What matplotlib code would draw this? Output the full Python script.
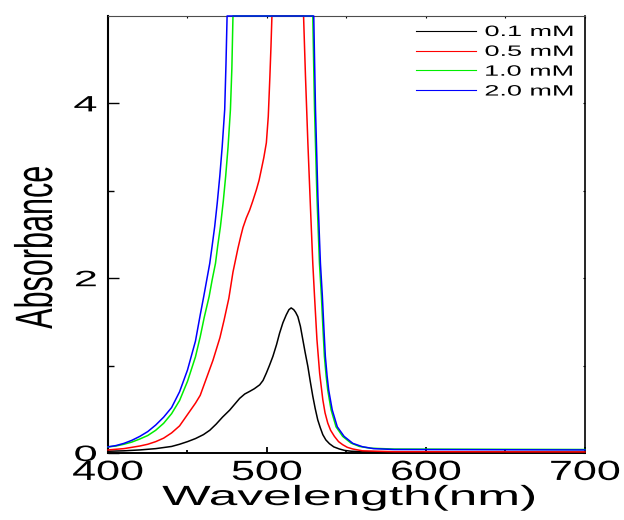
import matplotlib
matplotlib.use('Agg')
import matplotlib.pyplot as plt
from matplotlib.patheffects import AbstractPathEffect
from matplotlib.transforms import Affine2D
from matplotlib.ticker import FixedLocator

plt.rcParams['font.family'] = ['Liberation Sans', 'DejaVu Sans']

# ---------------- data ----------------
wl_01 = [400, 410, 420, 430, 440, 445, 450, 455, 460, 464, 468, 472, 476.5, 480, 482.8, 486,
         489.1, 492, 495.4, 497.5, 499.6, 501.5, 503.7, 506, 507.9, 510, 512.1, 513.8, 515.2,
         516.8, 518, 519.4, 521, 522.5, 524, 525.7, 527.2, 528.8, 530.3, 531.9, 533.5, 535.1,
         537, 539.3, 542, 545.5, 548.7, 553, 560, 580, 700]
abs_01 = [0.02, 0.025, 0.035, 0.05, 0.075, 0.10, 0.13, 0.165, 0.21, 0.26, 0.33, 0.41, 0.49,
          0.565, 0.625, 0.675, 0.705, 0.735, 0.78, 0.83, 0.915, 1.0, 1.105, 1.24, 1.37, 1.49,
          1.58, 1.64, 1.66, 1.64, 1.61, 1.56, 1.45, 1.30, 1.15, 0.99, 0.82, 0.65, 0.51, 0.38,
          0.29, 0.21, 0.15, 0.106, 0.07, 0.046, 0.03, 0.02, 0.015, 0.012, 0.01]

wl_05 = [400, 410, 420, 425, 430, 435, 440, 445, 450, 455, 458, 462, 466, 470.4, 473, 476,
         478.6, 481.7, 483.5, 484.9, 487, 489.1, 491, 493.3, 495, 496.4, 498, 499.6, 500.8,
         501.8, 502.5, 503.1, 523.0, 523.6, 524.2, 525.7, 527.4, 528.8, 529.9, 531.4, 533.1,
         535.1, 536.5, 538.2, 540, 542.4, 545, 547.6, 550.5, 553.9, 560, 580, 700]
abs_05 = [0.035, 0.05, 0.08, 0.10, 0.13, 0.17, 0.23, 0.31, 0.44, 0.57, 0.66, 0.86, 1.06, 1.32,
          1.52, 1.77, 2.07, 2.34, 2.48, 2.58, 2.69, 2.78, 2.88, 3.01, 3.12, 3.24, 3.38, 3.55,
          3.85, 4.3, 4.65, 5.0, 5.0, 4.65, 4.31, 3.55, 2.78, 2.17, 1.79, 1.30, 0.915, 0.61,
          0.46, 0.343, 0.26, 0.19, 0.13, 0.095, 0.065, 0.046, 0.025, 0.015, 0.012]

wl_10 = [400, 405, 410, 415, 420, 425, 430, 435, 440, 445, 450, 455, 458, 460.5, 463.6, 465.5,
         467.6, 469, 470.7, 472.5, 474, 475.5, 477, 477.9, 478.6, 528.8, 529.3, 529.9, 530.7,
         531.4, 532.2, 533.0, 534.2, 535.2, 536.1, 537.2, 538.2, 540.3, 543.4, 547.6, 552.8,
         558.1, 565, 580, 700]
abs_10 = [0.07, 0.08, 0.10, 0.125, 0.16, 0.20, 0.26, 0.34, 0.45, 0.60, 0.82, 1.10, 1.33, 1.55,
          1.79, 1.98, 2.17, 2.37, 2.59, 2.88, 3.165, 3.5, 3.93, 4.4, 5.0, 5.0, 4.5, 3.93, 3.4,
          2.94, 2.55, 2.17, 1.80, 1.42, 1.105, 0.88, 0.72, 0.495, 0.30, 0.19, 0.114, 0.075,
          0.055, 0.045, 0.04]

wl_20 = [400, 405, 410, 415, 420, 425, 430, 435, 440, 445, 450, 455, 458, 460.2, 462, 464,
         465.5, 467.1, 468.7, 470.3, 471.8, 473.4, 474.2, 474.9, 529.4, 529.9, 530.5, 531.3,
         532.0, 532.8, 533.6, 534.8, 535.8, 536.7, 537.8, 538.8, 541.0, 544.2, 548.5, 554, 560,
         567, 580, 700]
abs_20 = [0.07, 0.085, 0.11, 0.145, 0.19, 0.245, 0.32, 0.41, 0.52, 0.70, 0.95, 1.28, 1.58,
          1.79, 1.97, 2.17, 2.37, 2.59, 2.86, 3.165, 3.5, 3.93, 4.45, 5.0, 5.0, 4.5, 3.93, 3.4,
          2.94, 2.55, 2.17, 1.80, 1.42, 1.105, 0.88, 0.72, 0.495, 0.30, 0.19, 0.11, 0.072,
          0.05, 0.04, 0.035]

series_labels = ['0.1 mM', '0.5 mM', '1.0 mM', '2.0 mM']
series_colors = ['#000000', '#ff0000', '#00ee00', '#0000ff']
x_ticks = [400, 500, 600, 700]
x_minor = [450, 550, 650]
y_ticks = [0, 2, 4]
y_minor = [1, 3]
x_label = 'Wavelength(nm)'
y_label = 'Absorbance'


class Stretch(AbstractPathEffect):
    """Draw text glyphs stretched (the reference's text is horizontally widened)."""
    def __init__(self, sx=1.0, sy=1.0, anchor='center'):
        super().__init__()
        self.sx, self.sy, self.anchor = sx, sy, anchor

    def draw_path(self, renderer, gc, tpath, affine, rgbFace=None):
        ext = tpath.get_extents()
        if self.anchor == 'center':
            cx = (ext.x0 + ext.x1) / 2
        elif self.anchor == 'right':
            cx = ext.x1
        else:
            cx = ext.x0
        local = Affine2D().translate(-cx, 0).scale(self.sx, self.sy).translate(cx, 0)
        renderer.draw_path(gc, tpath, local + affine, rgbFace)


W, H = 624, 520
fig = plt.figure(figsize=(W / 100, H / 100), dpi=100)
ax = fig.add_axes([108 / W, 67 / H, 477 / W, 437 / H])

data = [(wl_01, abs_01), (wl_05, abs_05), (wl_10, abs_10), (wl_20, abs_20)]
for (wl, ab), c, lab in zip(data, series_colors, series_labels):
    ax.plot(wl, ab, color=c, lw=1.1, label=lab, zorder=3, clip_on=False)

ax.set_xlim(400, 700)
ax.set_ylim(0, 5)
ax.set_xticks(x_ticks)
ax.xaxis.set_minor_locator(FixedLocator(x_minor))
ax.set_yticks(y_ticks)
ax.yaxis.set_minor_locator(FixedLocator(y_minor))

ax.tick_params(axis='x', which='major', direction='in', length=4.3, width=1.3, pad=5.0,
               labelsize=20, top=True)
ax.tick_params(axis='x', which='minor', direction='in', length=2.5, width=1.3, top=True)
ax.tick_params(axis='y', which='major', direction='in', length=7.7, width=1.0, pad=8,
               labelsize=16, right=True)
ax.tick_params(axis='y', which='minor', direction='in', length=4.0, width=1.0, right=True)

for t in (ax.xaxis.get_major_ticks() + ax.xaxis.get_minor_ticks()
          + ax.yaxis.get_major_ticks() + ax.yaxis.get_minor_ticks()):
    t.tick2line.set_markersize(1.5)
    t.tick2line.set_color('0.6')
    t.tick2line.set_markeredgewidth(0.8)

ax.spines['left'].set_linewidth(1.5)
ax.spines['bottom'].set_linewidth(1.4)
ax.spines['right'].set_linewidth(1.2)
ax.spines['top'].set_linewidth(0.8)
ax.spines['top'].set_color('0.3')

for lab in ax.get_xticklabels():
    lab.set_path_effects([Stretch(sx=1.55, anchor='center')])
for lab in ax.get_yticklabels():
    lab.set_path_effects([Stretch(sx=1.95, anchor='right')])

ax.set_xlabel(x_label, fontsize=20)
ax.xaxis.set_label_coords(0.505, (453 - 505) / 437)
ax.xaxis.label.set_verticalalignment('baseline')
ax.xaxis.label.set_path_effects([Stretch(sx=1.85, anchor='center')])

ax.set_ylabel(y_label, fontsize=22)
ax.yaxis.set_label_coords((52 - 108) / 477, (453 - 247.5) / 437)
ax.yaxis.label.set_verticalalignment('baseline')
ax.yaxis.label.set_path_effects([Stretch(sy=1.72, anchor='center')])

leg = ax.legend(loc='upper left', bbox_to_anchor=(416 / W, 1 - 25 / H),
                bbox_transform=fig.transFigure, frameon=False, fontsize=10.8,
                handlelength=4.0, handletextpad=0.6, labelspacing=0.39,
                borderpad=0, borderaxespad=0)
for line in leg.get_lines():
    line.set_linewidth(0.8)
for txt in leg.get_texts():
    txt.set_path_effects([Stretch(sx=1.8, anchor='left')])

fig.savefig('out.png', dpi=100)
